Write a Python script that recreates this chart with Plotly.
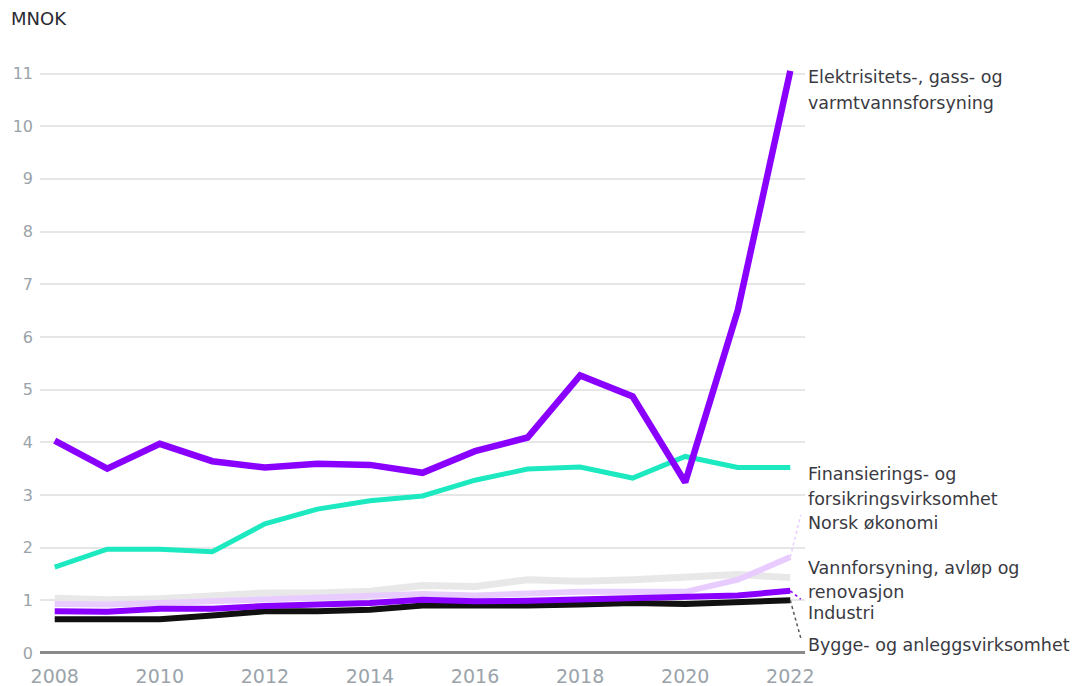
import plotly.graph_objects as go

years = list(range(2008, 2023))

elektrisitet = [4.03, 3.50, 3.97, 3.64, 3.52, 3.59, 3.57, 3.42, 3.83, 4.09, 5.27, 4.87, 3.24, 6.50, 11.05]
finans = [1.63, 1.97, 1.97, 1.92, 2.45, 2.73, 2.89, 2.98, 3.28, 3.49, 3.53, 3.32, 3.73, 3.52, 3.52]
vann = [1.04, 1.01, 1.03, 1.07, 1.14, 1.14, 1.17, 1.28, 1.26, 1.39, 1.36, 1.39, 1.45, 1.49, 1.43]
norsk = [0.93, 0.92, 0.95, 0.98, 1.03, 1.04, 1.07, 1.12, 1.09, 1.12, 1.16, 1.16, 1.16, 1.39, 1.82]
industri = [0.79, 0.78, 0.84, 0.84, 0.89, 0.92, 0.95, 1.01, 0.98, 0.99, 1.01, 1.04, 1.07, 1.09, 1.18]
bygg = [0.64, 0.64, 0.64, 0.71, 0.79, 0.79, 0.82, 0.90, 0.89, 0.90, 0.92, 0.95, 0.93, 0.97, 1.00]

y_ticks = list(range(0, 12))
x_ticks = list(range(2008, 2023, 2))

labels = [
    ("Elektrisitets-, gass- og", 10.93),
    ("varmtvannsforsyning", 10.44),
    ("Finansierings- og", 3.40),
    ("forsikringsvirksomhet", 2.92),
    ("Norsk økonomi", 2.47),
    ("Vannforsyning, avløp og", 1.61),
    ("renovasjon", 1.15),
    ("Industri", 0.75),
    ("Bygge- og anleggsvirksomhet", 0.15),
]

PURPLE = "#8A00FF"
TEAL = "#1DE9C0"
LIGHTPURPLE = "#E9CCFF"
LIGHTGRAY = "#E8E8E8"
BLACK = "#111111"

fig = go.Figure()

def line(y, color, width):
    fig.add_trace(go.Scatter(x=years, y=y, mode="lines",
                             line=dict(color=color, width=width, shape="linear"),
                             hoverinfo="skip", showlegend=False))

line(vann, LIGHTGRAY, 7)
line(norsk, LIGHTPURPLE, 6)
line(bygg, BLACK, 6)
line(industri, PURPLE, 6)
line(finans, TEAL, 5)
line(elektrisitet, PURPLE, 6.5)

# leader lines (dotted) from series end to labels
def leader(y_end, y_lab, color):
    fig.add_trace(go.Scatter(x=[years[-1], years[-1] + 0.2], y=[y_end, y_lab], mode="lines",
                             line=dict(color=color, width=1.5, dash="dot"),
                             hoverinfo="skip", showlegend=False))

leader(norsk[-1], 2.62, LIGHTPURPLE)
leader(industri[-1], 1.02, PURPLE)
leader(bygg[-1], 0.28, "#555555")

FONT = "DejaVu Sans"
for text, yv in labels:
    fig.add_annotation(x=years[-1], y=yv, text=text, xref="x", yref="y",
                       xanchor="left", yanchor="middle", xshift=16, showarrow=False,
                       font=dict(family=FONT, size=17.5, color="#3A3A42"))

fig.add_annotation(x=0, y=1, xref="paper", yref="paper", text="MNOK",
                   xanchor="left", yanchor="bottom", xshift=-31, yshift=32,
                   showarrow=False, font=dict(family=FONT, size=18, color="#2A2A32"))

fig.update_layout(
    width=1086, height=686,
    margin=dict(l=40, r=281, t=63, b=32),
    paper_bgcolor="white", plot_bgcolor="white",
    font=dict(family=FONT, color="#9AA3AA"),
    xaxis=dict(range=[2007.72, 2022.28], tickvals=x_ticks, showgrid=False,
               zeroline=False, showline=False, ticks="", automargin=False,
               tickfont=dict(size=19, color="#9AA3AA"), ticklabelstandoff=9),
    yaxis=dict(range=[-0.02, 11.2], tickvals=y_ticks, showgrid=True,
               gridcolor="#E6E6E6", gridwidth=2, zeroline=True, automargin=False,
               zerolinecolor="#8A8A8A", zerolinewidth=3, ticks="",
               tickfont=dict(size=16, color="#9AA3AA"), ticklabelstandoff=6),
)

fig.write_html("out.html", config={"displayModeBar": False},
               post_script="document.body.style.margin='0';")
